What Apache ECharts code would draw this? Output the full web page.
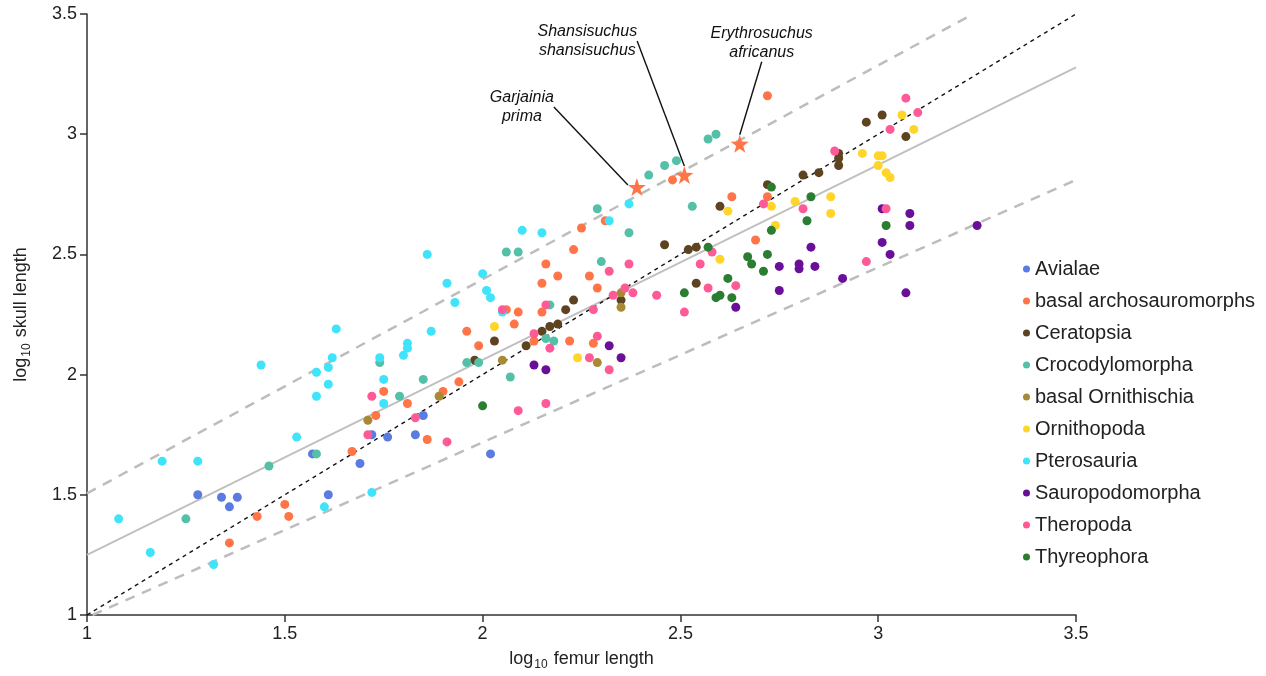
<!DOCTYPE html>
<html>
<head>
<meta charset="utf-8">
<script src="https://cdn.jsdelivr.net/npm/echarts@6/dist/echarts.min.js"></script>
<style>html,body{margin:0;padding:0;background:#fff;overflow:hidden}#c{width:1266px;height:676px}</style>
</head>
<body>
<div id="c"></div>
<script>
// ---- data (log10 femur length, log10 skull length) ----
const groupNames = ['Avialae','basal archosauromorphs','Ceratopsia','Crocodylomorpha','basal Ornithischia','Ornithopoda','Pterosauria','Sauropodomorpha','Theropoda','Thyreophora'];
const groupColors = ['#5b7be0','#ff7548','#5e4320','#55c0a8','#a88a35','#ffd52a','#3fe3fa','#6a0f9a','#ff5a98','#2b7d32'];

const avialae = [[1.57,1.67],[1.28,1.50],[1.34,1.49],[1.38,1.49],[1.36,1.45],[1.61,1.50],[1.85,1.83],[1.72,1.75],[1.76,1.74],[1.83,1.75],[1.69,1.63],[2.02,1.67]];
const basalArchosauromorphs = [[1.50,1.46],[1.43,1.41],[1.51,1.41],[1.36,1.30],[1.96,2.18],[1.99,2.12],[1.94,1.97],[1.90,1.93],[1.75,1.93],[1.81,1.88],[1.73,1.83],[1.86,1.73],[1.67,1.68],[2.13,2.14],[2.22,2.14],[2.23,2.52],[2.16,2.46],[2.19,2.41],[2.15,2.38],[2.06,2.27],[2.09,2.26],[2.15,2.26],[2.08,2.21],[2.72,3.16],[2.48,2.81],[2.31,2.64],[2.25,2.61],[2.63,2.74],[2.72,2.74],[2.69,2.56],[2.27,2.41],[2.29,2.36],[2.28,2.13]];
const ceratopsia = [[2.03,2.14],[1.98,2.06],[2.11,2.12],[2.15,2.18],[2.23,2.31],[2.21,2.27],[2.19,2.21],[2.17,2.20],[2.72,2.79],[2.81,2.83],[2.85,2.84],[2.60,2.70],[2.46,2.54],[2.52,2.52],[2.54,2.53],[2.35,2.31],[2.54,2.38],[2.97,3.05],[3.01,3.08],[3.07,2.99],[2.90,2.92],[2.90,2.90],[2.90,2.87]];
const crocodylomorpha = [[1.58,1.67],[1.46,1.62],[1.25,1.40],[1.74,2.05],[1.96,2.05],[1.99,2.05],[1.85,1.98],[2.07,1.99],[2.16,2.15],[2.18,2.14],[1.79,1.91],[2.06,2.51],[2.09,2.51],[2.17,2.29],[2.57,2.98],[2.59,3.00],[2.46,2.87],[2.49,2.89],[2.42,2.83],[2.29,2.69],[2.37,2.59],[2.53,2.70],[2.30,2.47]];
const basalOrnithischia = [[2.05,2.06],[1.89,1.91],[1.71,1.81],[2.35,2.34],[2.35,2.28],[2.29,2.05]];
const ornithopoda = [[2.03,2.20],[2.24,2.07],[2.62,2.68],[2.73,2.70],[2.79,2.72],[2.74,2.62],[2.60,2.48],[3.06,3.08],[3.09,3.02],[2.96,2.92],[3.00,2.91],[3.01,2.91],[3.00,2.87],[3.02,2.84],[3.03,2.82],[2.88,2.74],[2.88,2.67]];
const pterosauria = [[1.63,2.19],[1.62,2.07],[1.44,2.04],[1.58,2.01],[1.61,2.03],[1.61,1.96],[1.58,1.91],[1.53,1.74],[1.19,1.64],[1.28,1.64],[1.60,1.45],[1.08,1.40],[1.16,1.26],[1.32,1.21],[1.87,2.18],[1.81,2.13],[1.81,2.11],[1.80,2.08],[1.74,2.07],[1.75,1.98],[1.75,1.88],[1.72,1.51],[2.10,2.60],[2.15,2.59],[1.86,2.50],[2.00,2.42],[1.91,2.38],[2.01,2.35],[2.02,2.32],[1.93,2.30],[2.05,2.26],[2.37,2.71],[2.32,2.64]];
const sauropodomorpha = [[2.13,2.04],[2.16,2.02],[2.32,2.12],[2.35,2.07],[2.83,2.53],[2.80,2.46],[2.80,2.44],[2.84,2.45],[2.75,2.45],[2.75,2.35],[2.64,2.28],[3.01,2.69],[3.08,2.67],[3.08,2.62],[3.25,2.62],[3.01,2.55],[3.03,2.50],[2.91,2.40],[3.07,2.34]];
const theropoda = [[1.72,1.91],[1.83,1.82],[1.71,1.75],[1.91,1.72],[2.13,2.17],[2.17,2.11],[2.09,1.85],[2.16,1.88],[2.05,2.27],[2.16,2.29],[2.71,2.71],[2.81,2.69],[2.58,2.51],[2.37,2.46],[2.32,2.43],[2.55,2.46],[2.33,2.33],[2.36,2.36],[2.38,2.34],[2.28,2.27],[2.44,2.33],[2.57,2.36],[2.64,2.37],[2.51,2.26],[2.29,2.16],[2.27,2.07],[2.32,2.02],[3.07,3.15],[3.10,3.09],[3.03,3.02],[2.89,2.93],[3.02,2.69],[2.97,2.47]];
const thyreophora = [[2.00,1.87],[2.73,2.78],[2.83,2.74],[2.82,2.64],[2.73,2.60],[2.57,2.53],[2.67,2.49],[2.68,2.46],[2.72,2.50],[2.71,2.43],[2.51,2.34],[2.62,2.40],[2.59,2.32],[2.60,2.33],[2.63,2.32],[3.02,2.62]];

const starNames = ['Garjainia\nprima','Shansisuchus\nshansisuchus','Erythrosuchus\nafricanus'];
const starValues = [[2.39,2.78],[2.51,2.83],[2.65,2.96]];

const isometryLine = [[1,1],[3.5,3.5]];
const fitLine = [[1,1.25],[3.5,3.278]];
const upperBand = [[1,1.506],[3.24,3.5]];
const lowerBand = [[1.014,1.0],[3.5,2.81]];

const xTicks = ['1','1.5','2','2.5','3','3.5'];
const yTicks = ['1','1.5','2','2.5','3','3.5'];

const groupData = [avialae,basalArchosauromorphs,ceratopsia,crocodylomorpha,basalOrnithischia,ornithopoda,pterosauria,sauropodomorpha,theropoda,thyreophora];

// ---- chart ----
const FONT = "'Liberation Sans', Arial, Helvetica, sans-serif";
const chart = echarts.init(document.getElementById('c'));
const labelOffsets = [[-115,-80],[-97,-134],[22,-101]];

const series = [];
function lineSeries(data, color, width, type, z) {
  return {type:'line', data:data, symbol:'none', silent:true, z:z, clip:true,
          lineStyle:{color:color, width:width, type:type}, animation:false};
}
series.push(lineSeries(upperBand,'#bdbdbd',2.5,[10,8],1));
series.push(lineSeries(lowerBand,'#bdbdbd',2.5,[10,8],1));
series.push(lineSeries(fitLine,'#c0c0c0',2,'solid',1));
series.push(lineSeries(isometryLine,'#111111',1.4,[4,4],1));

groupNames.forEach((n,i)=>{
  series.push({type:'scatter', name:n, data:groupData[i], symbolSize:9, z:3,
    itemStyle:{color:groupColors[i], opacity:1}, animation:false});
});

series.push({type:'scatter', name:'stars', symbol:'path://M50,0 L61.8,35.1 L98.9,35.5 L69.1,57.6 L80.2,93 L50,71.5 L19.8,93 L30.9,57.6 L1.1,35.5 L38.2,35.1 Z',
  symbolSize:18, z:4, animation:false,
  itemStyle:{color:'#ff7548', opacity:1},
  data: starValues.map((v,i)=>({value:v, name:starNames[i]})),
  label:{show:true, position:'inside', formatter:(p)=>p.name, fontFamily:FONT, fontStyle:'italic', fontSize:16, color:'#111', lineHeight:19, align:'center'},
  labelLine:{show:true, lineStyle:{color:'#111', width:1.4}},
  labelLayout:(p)=>({dx:labelOffsets[p.dataIndex][0], dy:labelOffsets[p.dataIndex][1]})
});

const nameRich = {
  a:{fontFamily:FONT, fontSize:18, color:'#222', lineHeight:24},
  s:{fontFamily:FONT, fontSize:12, color:'#222', lineHeight:24, verticalAlign:'bottom', padding:[6,1,0,1]}
};

chart.setOption({
  animation:false,
  backgroundColor:'#fff',
  grid:{left:87, top:14, width:989, height:605, containLabel:false},
  legend:{
    data:groupNames, orient:'vertical', left:1018, top:254, icon:'circle',
    itemWidth:7, itemHeight:7, itemGap:12, selectedMode:false,
    textStyle:{fontFamily:FONT, fontSize:20, color:'#222', lineHeight:20}
  },
  xAxis:{
    type:'value', min:1, max:3.5, interval:0.5,
    name:'{a|log}{s|10}{a| femur length}', nameLocation:'middle', nameGap:32,
    nameTextStyle:{rich:nameRich},
    axisLine:{lineStyle:{color:'#333', width:1.5}},
    axisTick:{show:true, length:7, lineStyle:{color:'#333', width:1.5}},
    axisLabel:{fontFamily:FONT, fontSize:18, color:'#222', margin:10,
      formatter:(v)=>xTicks[Math.round((v-1)/0.5)]},
    splitLine:{show:false}
  },
  yAxis:{
    type:'value', min:1, max:3.5, interval:0.5,
    name:'{a|log}{s|10}{a| skull length}', nameLocation:'middle', nameGap:54, nameRotate:90,
    nameTextStyle:{rich:nameRich},
    axisLine:{lineStyle:{color:'#333', width:1.5}},
    axisTick:{show:true, length:7, lineStyle:{color:'#333', width:1.5}},
    axisLabel:{fontFamily:FONT, fontSize:18, color:'#222', margin:10,
      formatter:(v)=>yTicks[Math.round((v-1)/0.5)]},
    splitLine:{show:false}
  },
  series:series
});
</script>
</body>
</html>
